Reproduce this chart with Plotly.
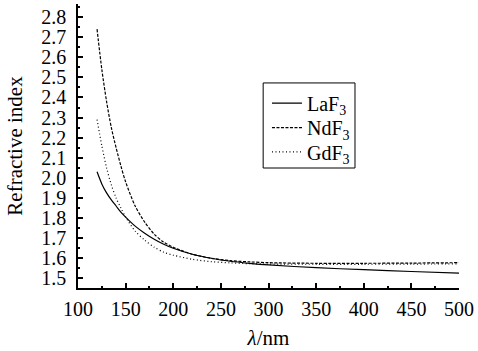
import plotly.graph_objects as go

# Wavelength samples (nm) and refractive index of each fluoride film
wavelength = [120, 125, 130, 135, 140, 145, 150, 160, 170, 180, 190, 200,
              220, 240, 260, 280, 300, 350, 400, 450, 500]
n_laf3 = [2.03, 1.97, 1.925, 1.89, 1.86, 1.83, 1.805, 1.76, 1.725, 1.695, 1.67, 1.65,
          1.62, 1.60, 1.585, 1.575, 1.567, 1.553, 1.543, 1.534, 1.526]
n_ndf3 = [2.74, 2.54, 2.38, 2.25, 2.15, 2.06, 1.98, 1.86, 1.78, 1.72, 1.68, 1.655,
          1.62, 1.60, 1.588, 1.582, 1.578, 1.575, 1.575, 1.576, 1.578]
n_gdf3 = [2.29, 2.16, 2.05, 1.965, 1.90, 1.85, 1.805, 1.735, 1.69, 1.655, 1.63, 1.615,
          1.595, 1.583, 1.577, 1.573, 1.571, 1.570, 1.570, 1.571, 1.572]

series_names = ["LaF<sub>3</sub>", "NdF<sub>3</sub>", "GdF<sub>3</sub>"]
series_values = [n_laf3, n_ndf3, n_gdf3]
series_dash = ["solid", "3px,1.5px", "1px,2.5px"]

x_ticks = [100, 150, 200, 250, 300, 350, 400, 450, 500]
y_ticks = [1.5, 1.6, 1.7, 1.8, 1.9, 2.0, 2.1, 2.2, 2.3, 2.4, 2.5, 2.6, 2.7, 2.8]

FONT = "Liberation Serif, Times New Roman, Times, serif"

# Legend layout: one single-entry legend per curve, stacked inside a framed box
legend_ids = ["legend", "legend2", "legend3"]
legend_rows = [0.651, 0.565, 0.479]
legend_left = 0.496
legend_box = dict(x0=0.486, x1=0.727, y0=0.4225, y1=0.722)

fig = go.Figure()
for name, values, dash, lid in zip(series_names, series_values, series_dash, legend_ids):
    fig.add_trace(go.Scatter(
        x=wavelength, y=values, mode="lines", name=name, legend=lid,
        line=dict(color="black", width=1.2, dash=dash, shape="spline", smoothing=0.8),
    ))

legend_style = dict(
    xanchor="left", yanchor="middle",
    bgcolor="rgba(0,0,0,0)", borderwidth=0,
    font=dict(family=FONT, size=20, color="black"),
    itemwidth=30,
)
legend_layout = {
    lid: dict(x=legend_left, y=row, **legend_style)
    for lid, row in zip(legend_ids, legend_rows)
}

fig.update_layout(
    width=478, height=351,
    margin=dict(l=78, r=15, t=4, b=63),
    paper_bgcolor="white", plot_bgcolor="white",
    font=dict(family=FONT, size=20, color="black"),
    showlegend=True,
    **legend_layout,
)

fig.add_shape(
    type="rect", xref="paper", yref="paper", layer="below",
    line=dict(color="black", width=1), fillcolor="white",
    **legend_box,
)

fig.update_xaxes(
    range=[100, 500], tickvals=x_ticks,
    showgrid=False, zeroline=False,
    showline=True, linecolor="black", linewidth=1.5, mirror=False,
    ticks="inside", ticklen=5, tickwidth=1.5, tickcolor="black",
    minor=dict(ticks="inside", ticklen=2.5, tickwidth=1.5, tickcolor="black", dtick=25),
    tickfont=dict(family=FONT, size=20),
    ticklabelstandoff=2,
    title=dict(text="<i>λ</i>/nm", font=dict(family=FONT, size=21), standoff=12),
)
fig.update_yaxes(
    range=[1.452, 2.865], tickvals=y_ticks, tickformat=".1f",
    showgrid=False, zeroline=False,
    showline=True, linecolor="black", linewidth=1.5, mirror=False,
    ticks="inside", ticklen=5, tickwidth=1.5, tickcolor="black",
    minor=dict(ticks="inside", ticklen=2.5, tickwidth=1.5, tickcolor="black", dtick=0.05),
    tickfont=dict(family=FONT, size=20),
    ticklabelstandoff=6,
    title=dict(text="Refractive index", font=dict(family=FONT, size=21), standoff=13),
)

fig.write_html("out.html")
